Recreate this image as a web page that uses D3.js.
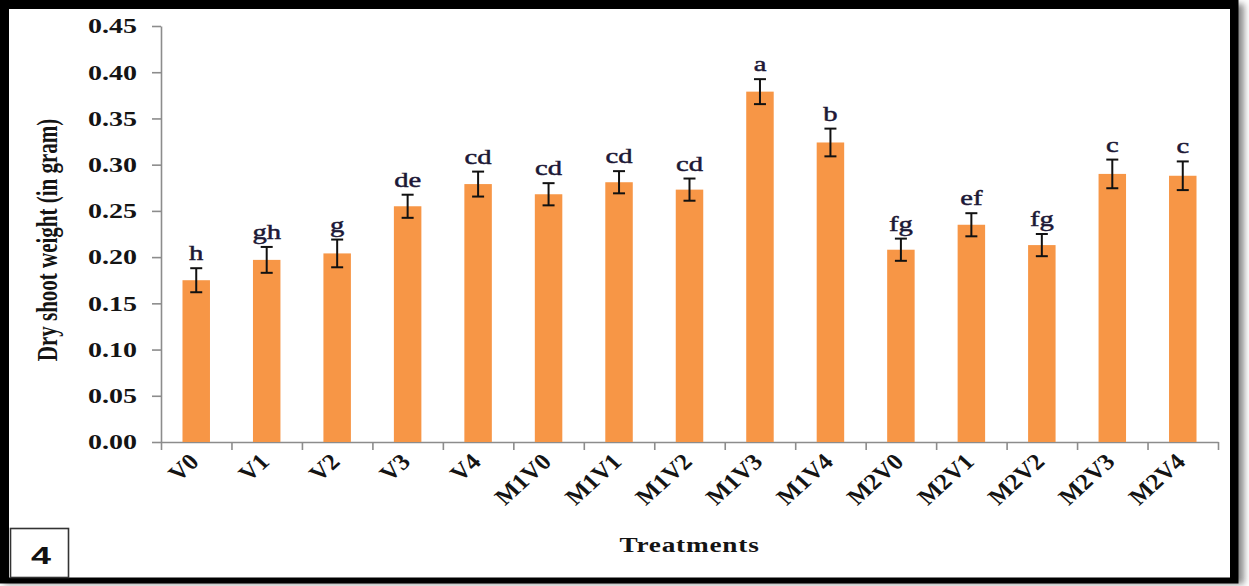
<!DOCTYPE html>
<html>
<head>
<meta charset="utf-8">
<script src="https://cdn.jsdelivr.net/npm/d3@7"></script>
<style>
  html, body { margin: 0; padding: 0; background: #ffffff; }
  svg { display: block; }
</style>
</head>
<body>
<svg id="chart" width="1249" height="586"></svg>
<script>
// Dry shoot weight by treatment, mean ± SE with significance letters
const treatments = ["V0","V1","V2","V3","V4","M1V0","M1V1","M1V2","M1V3","M1V4","M2V0","M2V1","M2V2","M2V3","M2V4"];
const dryShootWeight = [0.175,0.197,0.204,0.255,0.279,0.268,0.281,0.273,0.379,0.324,0.208,0.235,0.213,0.290,0.288];
const standardError = [0.013,0.014,0.015,0.0125,0.0135,0.012,0.012,0.012,0.0135,0.015,0.012,0.0125,0.012,0.0155,0.0155];
const groupLetters = ["h","gh","g","de","cd","cd","cd","cd","a","b","fg","ef","fg","c","c"];
const yTickValues = [0,0.05,0.10,0.15,0.20,0.25,0.30,0.35,0.40,0.45];

const svg = d3.select("#chart");
const plot = { left: 161, right: 1218, top: 26, bottom: 442 };
const serif = "'Liberation Serif','Times New Roman',serif";
const stretch = 1.4; // horizontal widening of the lettering

// frame with soft shadow
const defs = svg.append("defs");
const shadow = defs.append("filter").attr("id", "shadow")
  .attr("x", "-5%").attr("y", "-5%").attr("width", "110%").attr("height", "110%");
shadow.append("feGaussianBlur").attr("stdDeviation", 3);

svg.append("rect").attr("x", 4).attr("y", 4).attr("width", 1240).attr("height", 580)
  .attr("fill", "#8a8a8a").attr("filter", "url(#shadow)");
svg.append("rect").attr("x", 0).attr("y", 0).attr("width", 1238.5).attr("height", 583.5).attr("fill", "#000");
svg.append("rect").attr("x", 9).attr("y", 9).attr("width", 1221).attr("height", 568.5).attr("fill", "#fff");

// scales
const x = d3.scaleBand().domain(treatments).range([plot.left, plot.right]).padding(0);
const y = d3.scaleLinear().domain([0, 0.45]).range([plot.bottom, plot.top]);
const barW = x.bandwidth() * 0.39;
const axisColor = "#8c8c8c";

// y axis
const yAxis = svg.append("g").attr("transform", `translate(${plot.left},0)`)
  .call(d3.axisLeft(y).tickValues(yTickValues).tickFormat(d3.format(".2f")).tickSize(9).tickSizeOuter(0));
yAxis.select(".domain").attr("stroke", axisColor).attr("stroke-width", 1.6);
yAxis.selectAll(".tick line").attr("stroke", axisColor).attr("stroke-width", 1.6);
yAxis.selectAll(".tick text")
  .attr("x", 0).attr("dy", "0.34em")
  .attr("transform", `translate(-24,0) scale(${stretch},1)`)
  .attr("font-family", serif).attr("font-weight", "bold").attr("font-size", 20)
  .attr("fill", "#141414").attr("text-anchor", "end");

// x axis: boundary ticks between treatments
const boundary = d3.scaleLinear().domain([0, treatments.length]).range([plot.left, plot.right]);
const xTicks = svg.append("g").attr("transform", `translate(0,${plot.bottom})`)
  .call(d3.axisBottom(boundary).ticks(treatments.length).tickFormat("").tickSize(8).tickSizeOuter(0));
xTicks.select(".domain").attr("stroke", axisColor).attr("stroke-width", 1.6);
xTicks.selectAll(".tick line").attr("stroke", axisColor).attr("stroke-width", 1.6);

// x labels at band centers
const xLabels = svg.append("g").attr("transform", `translate(0,${plot.bottom})`)
  .call(d3.axisBottom(x).tickSize(0));
xLabels.select(".domain").remove();
xLabels.selectAll(".tick text")
  .attr("x", 0).attr("y", 0).attr("dy", 0)
  .attr("transform", `translate(4,21) scale(1.1,1) rotate(-45)`)
  .attr("text-anchor", "end")
  .attr("font-family", serif).attr("font-weight", "bold").attr("font-size", 23)
  .attr("fill", "#141414");

// bars
svg.append("g").selectAll("rect").data(treatments).join("rect")
  .attr("x", d => x(d) + x.bandwidth() / 2 - barW / 2)
  .attr("y", (d, i) => y(dryShootWeight[i]))
  .attr("width", barW)
  .attr("height", (d, i) => y(0) - y(dryShootWeight[i]))
  .attr("fill", "#F79646");

// error bars
const eb = svg.append("g").attr("stroke", "#111").attr("stroke-width", 2).attr("fill", "none");
treatments.forEach((t, i) => {
  const cx = x(t) + x.bandwidth() / 2;
  const hi = y(dryShootWeight[i] + standardError[i]);
  const lo = y(dryShootWeight[i] - standardError[i]);
  eb.append("line").attr("x1", cx).attr("x2", cx).attr("y1", hi).attr("y2", lo);
  eb.append("line").attr("x1", cx - 6).attr("x2", cx + 6).attr("y1", hi).attr("y2", hi);
  eb.append("line").attr("x1", cx - 6).attr("x2", cx + 6).attr("y1", lo).attr("y2", lo);
});

// significance letters
svg.append("g").selectAll("text").data(treatments).join("text")
  .attr("transform", (d, i) => {
    const cx = x(d) + x.bandwidth() / 2;
    const top = y(dryShootWeight[i] + standardError[i]) - 8;
    return `translate(${cx},${top}) scale(1.3,1)`;
  })
  .attr("text-anchor", "middle")
  .attr("font-family", serif).attr("font-size", 22)
  .attr("fill", "#1c1836").attr("stroke", "#1c1836").attr("stroke-width", 0.5)
  .text((d, i) => groupLetters[i]);

// axis titles
svg.append("text")
  .attr("transform", `translate(57,${(plot.top + plot.bottom) / 2 + 6}) scale(${stretch},1) rotate(-90)`)
  .attr("text-anchor", "middle")
  .attr("font-family", serif).attr("font-weight", "bold").attr("font-size", 21)
  .attr("fill", "#141414")
  .text("Dry shoot weight (in gram)");

svg.append("text")
  .attr("transform", `translate(${(plot.left + plot.right) / 2},552) scale(1.3,1)`)
  .attr("text-anchor", "middle")
  .attr("font-family", serif).attr("font-weight", "bold").attr("font-size", 21)
  .attr("letter-spacing", 0.6)
  .attr("fill", "#141414")
  .text("Treatments");

// panel number box
svg.append("rect").attr("x", 10.5).attr("y", 528.5).attr("width", 58).attr("height", 49)
  .attr("fill", "#fff").attr("stroke", "#333").attr("stroke-width", 1.6);
svg.append("text")
  .attr("transform", "translate(41,564) scale(1.5,1)")
  .attr("text-anchor", "middle")
  .attr("font-family", "'Liberation Sans',Arial,sans-serif").attr("font-weight", "bold").attr("font-size", 24)
  .attr("fill", "#111")
  .text("4");
</script>
</body>
</html>
